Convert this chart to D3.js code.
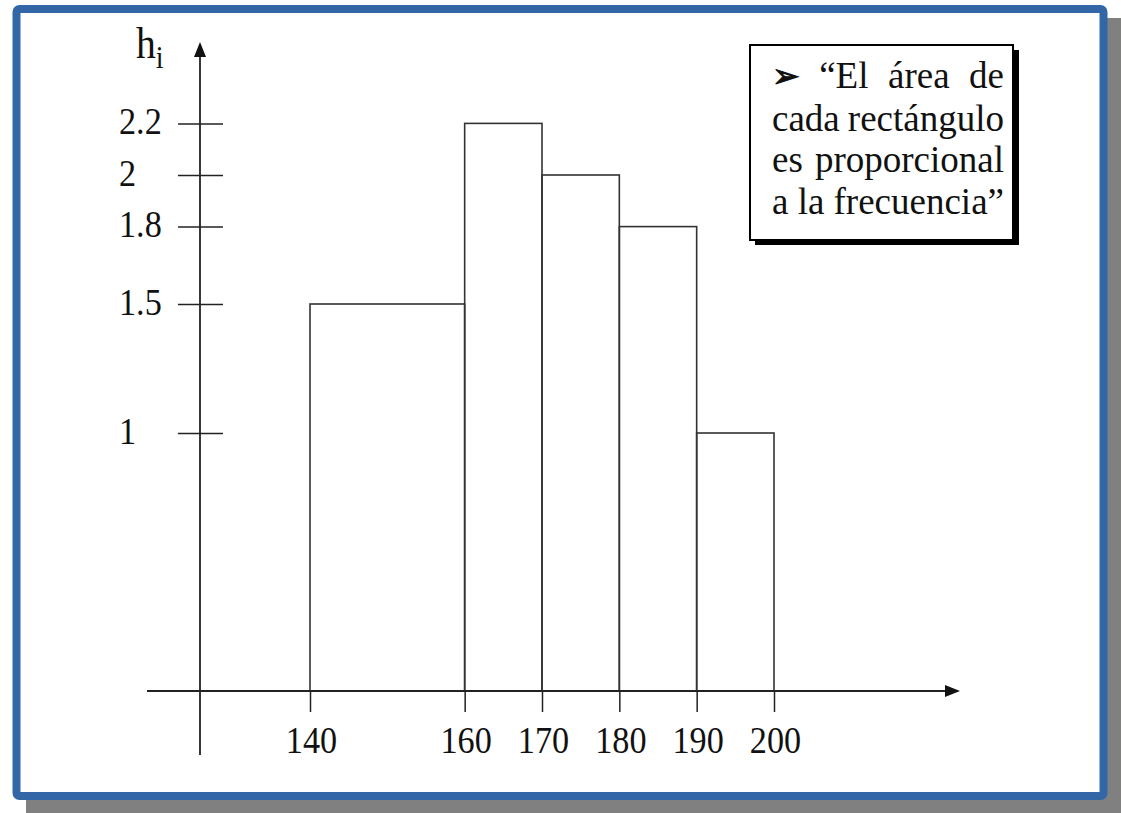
<!DOCTYPE html>
<html>
<head>
<meta charset="utf-8">
<script src="https://cdn.jsdelivr.net/npm/d3@7"></script>
<style>
  html, body { margin: 0; padding: 0; background: #ffffff; }
  svg { display: block; }
  text { font-family: "Liberation Serif", "Times New Roman", serif; fill: #111; }
</style>
</head>
<body>
<svg id="chart" width="1121" height="813"></svg>
<script>
// ---- data ----
const binStarts = [140, 160, 170, 180, 190];
const binEnds   = [160, 170, 180, 190, 200];
const heights   = [1.5, 2.2, 2.0, 1.8, 1.0];
const xTicks = [140, 160, 170, 180, 190, 200];
const yTicks = [1, 1.5, 1.8, 2, 2.2];
const yTickLabels = ["1", "1.5", "1.8", "2", "2.2"];
const yAxisTitle = "h";
const yAxisTitleSub = "i";
const noteBullet = "\u27A2";
const noteLines = ["\u201CEl área de", "cada rectángulo", "es proporcional", "a la frecuencia\u201D"];

const svg = d3.select("#chart");
const SX = 0.9;          // horizontal compression of the axis glyphs
const FS = 38;           // axis font size
const NOTE_FS = 37;      // note font size

// ---- frame with shadow ----
svg.append("rect").attr("x", 26).attr("y", 18).attr("width", 1095).attr("height", 795)
  .attr("fill", "#808080");
svg.append("rect").attr("x", 16.5).attr("y", 9).attr("width", 1087).attr("height", 787)
  .attr("rx", 3).attr("fill", "#ffffff").attr("stroke", "#3366a6").attr("stroke-width", 8);

// ---- scales ----
const x = d3.scaleLinear().domain([140, 200]).range([310, 774]);
const y = d3.scaleLinear().domain([0, 2.2]).range([691, 691 - 2.2 * 258]);
const axisX = 200;
const axisColor = "#222";

// ---- bars ----
const bars = binStarts.map((s, i) => ({ s, e: binEnds[i], h: heights[i] }));
svg.append("g").selectAll("rect").data(bars).join("rect")
  .attr("x", d => x(d.s))
  .attr("y", d => y(d.h))
  .attr("width", d => x(d.e) - x(d.s))
  .attr("height", d => y(0) - y(d.h))
  .attr("fill", "none")
  .attr("stroke", "#333")
  .attr("stroke-width", 1.6);

// ---- x axis ----
svg.append("line").attr("x1", 147).attr("x2", 948).attr("y1", y(0)).attr("y2", y(0))
  .attr("stroke", axisColor).attr("stroke-width", 1.8);
svg.append("path").attr("d", `M960,${y(0)} L945,${y(0) - 6} L945,${y(0) + 6} Z`).attr("fill", "#111");

const gx = svg.append("g").attr("transform", `translate(0,${y(0)})`)
  .call(d3.axisBottom(x).tickValues(xTicks).tickSize(21).tickFormat(d3.format("d")));
gx.select(".domain").remove();
gx.selectAll(".tick line").attr("stroke", axisColor).attr("stroke-width", 1.5);
gx.selectAll(".tick text").attr("x", 0).attr("y", 0).attr("dy", 0)
  .attr("transform", `translate(1,62) scale(${SX},1)`)
  .style("font-family", '"Liberation Serif", serif').style("font-size", FS + "px").attr("fill", "#111");

// ---- y axis ----
svg.append("line").attr("x1", axisX).attr("x2", axisX).attr("y1", 52).attr("y2", 755)
  .attr("stroke", axisColor).attr("stroke-width", 1.8);
svg.append("path").attr("d", `M${axisX},42 L${axisX - 6},57 L${axisX + 6},57 Z`).attr("fill", "#111");

const gy = svg.append("g").attr("transform", `translate(${axisX},0)`)
  .call(d3.axisLeft(y).tickValues(yTicks).tickSize(22)
        .tickFormat((d, i) => yTickLabels[i]));
gy.select(".domain").remove();
gy.selectAll(".tick line").attr("x1", -22).attr("x2", 23).attr("stroke", axisColor).attr("stroke-width", 1.5);
gy.selectAll(".tick text").attr("x", 0).attr("y", 0).attr("dy", 0)
  .attr("transform", `translate(-81,10) scale(${SX},1)`)
  .attr("text-anchor", "start")
  .style("font-family", '"Liberation Serif", serif').style("font-size", FS + "px").attr("fill", "#111");

// y axis title h_i
const title = svg.append("text").attr("transform", `translate(136,58) scale(${SX},1)`)
  .style("font-size", "44px");
title.append("tspan").text(yAxisTitle);
title.append("tspan").attr("dy", 10).style("font-size", "31px").text(yAxisTitleSub);

// ---- note box ----
svg.append("rect").attr("x", 755).attr("y", 50).attr("width", 264).attr("height", 195).attr("fill", "#000");
svg.append("rect").attr("x", 750).attr("y", 45).attr("width", 263).attr("height", 195)
  .attr("fill", "#fff").attr("stroke", "#000").attr("stroke-width", 2);

const noteLeft = 772, noteWidth = 232;
const lineY = [88, 131, 172, 214];
noteLines.forEach((line, i) => {
  const t = svg.append("text")
    .attr("transform", `translate(${noteLeft},${lineY[i]})`)
    .style("font-size", NOTE_FS + "px");
  const words = line.split(" ");
  const items = [];
  if (i === 0) {
    items.push(t.append("tspan").attr("y", -1)
      .style("font-family", '"DejaVu Sans", sans-serif').style("font-size", "33px")
      .style("font-weight", "bold").attr("stroke", "#111").attr("stroke-width", 1)
      .text(noteBullet));
  }
  words.forEach(w => items.push(t.append("tspan").attr("y", 0).text(w)));
  const widths = items.map(s => s.node().getComputedTextLength());
  const total = d3.sum(widths);
  const gap = Math.max(4, (noteWidth - total) / (items.length - 1));
  let cx = 0;
  items.forEach((s, k) => { s.attr("x", cx); cx += widths[k] + gap; });
});
</script>
</body>
</html>
